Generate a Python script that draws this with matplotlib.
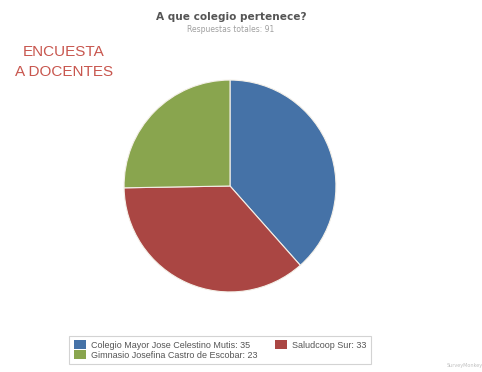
import matplotlib.pyplot as plt
from matplotlib.patches import Patch

colegios = ['Colegio Mayor Jose Celestino Mutis', 'Saludcoop Sur',
            'Gimnasio Josefina Castro de Escobar']
respuestas = [35, 33, 23]
colores = ['#4572A7', '#AA4643', '#89A54E']

fig = plt.figure(figsize=(4.82, 3.72), dpi=100)
fig.patch.set_facecolor('white')

# pie area
ax = fig.add_axes([123 / 482, 79 / 372, 214 / 482, 214 / 372])
ax.pie(respuestas, colors=colores, startangle=90, counterclock=False,
       radius=1.0, wedgeprops={'edgecolor': '#f4f0e8', 'linewidth': 0.8})
ax.set_xlim(-1.01, 1.01)
ax.set_ylim(-1.01, 1.01)
ax.set_aspect('equal')
ax.axis('off')

total = sum(respuestas)
fig.text(231 / 482, 1 - 17 / 372, 'A que colegio pertenece?', ha='center',
         va='center', fontsize=7.6, color='#555555', fontweight='bold')
fig.text(231 / 482, 1 - 29 / 372, 'Respuestas totales: %d' % total,
         ha='center', va='center', fontsize=5.5, color='#a0a0a0')

fig.text(64 / 482, 1 - 52 / 372, 'ENCUESTA', ha='center', va='center',
         fontsize=11, color='#c8564e', family='Liberation Sans')
fig.text(64 / 482, 1 - 72 / 372, 'A DOCENTES', ha='center', va='center',
         fontsize=11, color='#c8564e', family='Liberation Sans')

# legend: column-major fill puts the green item under the blue one
orden = [0, 2, 1]
handles = [Patch(facecolor=colores[i], edgecolor='none') for i in orden]
labels = ['%s: %d' % (colegios[i], respuestas[i]) for i in orden]
leg = fig.legend(handles, labels, ncol=2, loc='center',
                 bbox_to_anchor=(220 / 482, 1 - 350 / 372),
                 prop={'family': 'Liberation Sans', 'size': 6.5},
                 frameon=True, fancybox=False,
                 handlelength=1.4, handleheight=1.1, handletextpad=0.5,
                 columnspacing=1.9, labelspacing=0.1, borderpad=0.5)
leg.get_frame().set_edgecolor('#c8c8c8')
leg.get_frame().set_linewidth(0.8)
for t in leg.get_texts():
    t.set_color('#555555')

fig.text(465 / 482, 1 - 366 / 372, 'SurveyMonkey', ha='center', va='center',
         fontsize=3.5, color='#c0c0c0')

fig.savefig('out.png', dpi=100)
